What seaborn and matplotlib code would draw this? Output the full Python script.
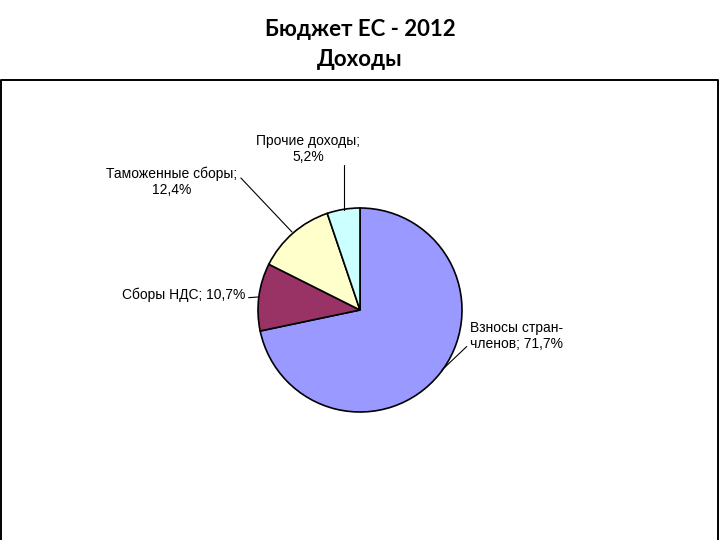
import matplotlib
matplotlib.use("Agg")
import matplotlib.pyplot as plt
import seaborn as sns

# data
categories = ["Взносы стран-\nчленов", "Сборы НДС", "Таможенные сборы", "Прочие доходы"]
shares = [71.7, 10.7, 12.4, 5.2]
colors = ["#9999FF", "#993366", "#FFFFCC", "#CCFFFF"]
title_lines = ["Бюджет ЕС - 2012", "Доходы"]

sns.set_theme(style="white")
plt.rcParams["font.family"] = ["Liberation Sans", "DejaVu Sans"]
plt.rcParams["text.color"] = "black"

fig = plt.figure(figsize=(7.2, 5.4), dpi=100)
ax = fig.add_axes([0, 0, 1, 1])
ax.set_xlim(0, 720)
ax.set_ylim(0, 540)
ax.set_aspect("equal")
ax.axis("off")

# frame of the chart area (open at the bottom)
ax.plot([1, 1, 718, 718], [0, 460, 460, 0], color="black", lw=1.4, clip_on=False)

# title
ax.text(360, 510, title_lines[0], ha="center", va="center", fontsize=16,
        fontweight="bold", family=["Lato", "DejaVu Sans"])
ax.text(360, 480, title_lines[1], ha="center", va="center", fontsize=16,
        fontweight="bold", family=["Lato", "DejaVu Sans"])

ax.pie(shares, colors=colors, startangle=90, counterclock=False,
       center=(360, 230), radius=102,
       wedgeprops=dict(edgecolor="black", linewidth=1.2))
ax.set_xlim(0, 720)
ax.set_ylim(0, 540)

labels = [f"{c}; {str(v).replace('.', ',')}%" for c, v in zip(categories, shares)]

fs = 10
# Взносы
ax.annotate(labels[0], xy=(442, 170), xytext=(470, 204), ha="left", va="center",
            fontsize=fs, linespacing=1.15,
            arrowprops=dict(arrowstyle="-", color="black", lw=0.8,
                            shrinkA=0, shrinkB=0, relpos=(0, 0.25)))
# НДС
ax.annotate(labels[1], xy=(258, 243), xytext=(122, 245), ha="left", va="center",
            fontsize=fs,
            arrowprops=dict(arrowstyle="-", color="black", lw=0.8,
                            shrinkA=0, shrinkB=0, relpos=(1, 0.3)))
# Таможенные
ax.annotate(labels[2].replace("; ", ";\n"), xy=(292, 308), xytext=(172, 358),
            ha="center", va="center", fontsize=fs, linespacing=1.15,
            arrowprops=dict(arrowstyle="-", color="black", lw=0.8,
                            shrinkA=0, shrinkB=0, relpos=(1, 0.75)))
# Прочие
ax.text(308, 391, labels[3].replace("; ", ";\n"), ha="center", va="center",
        fontsize=fs, linespacing=1.15)
ax.plot([344, 344], [375, 330], color="black", lw=0.8)

fig.savefig("out.png", dpi=100)
